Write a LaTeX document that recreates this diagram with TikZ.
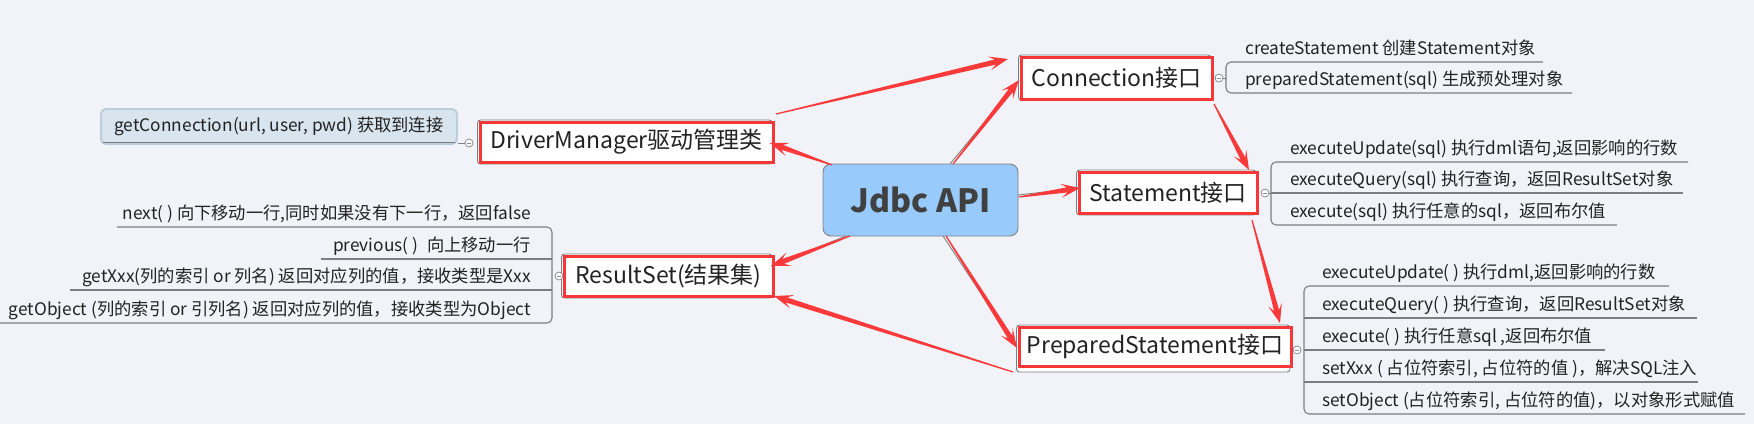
\documentclass[tikz,border=0pt]{standalone}
\usepackage{fontspec}
\setmainfont{Noto Sans CJK SC}
\usetikzlibrary{calc}
\definecolor{bg}{RGB}{242,243,248}
\definecolor{arrowred}{RGB}{250,58,58}
\definecolor{boxred}{RGB}{245,55,55}
\definecolor{txt}{RGB}{34,34,34}
\definecolor{linegray}{RGB}{125,125,130}
\definecolor{knobgray}{RGB}{140,140,145}
\definecolor{jdbcfill}{RGB}{153,202,252}
\definecolor{jdbctxt}{RGB}{64,64,64}
\definecolor{gcfill}{RGB}{216,229,239}
\definecolor{gcborder}{RGB}{188,206,222}
\newcommand{\taper}[2]{%
  \coordinate (tN) at ($(#2)!13pt!(#1)$);
  \coordinate (tB) at ($(#2)!19pt!(#1)$);
  \fill[arrowred] ($(#1)!0.6pt!90:(#2)$) -- ($(tN)!2.6pt!90:(#2)$) -- ($(tB)!7pt!90:(#2)$) -- (#2)
    -- ($(tB)!7pt!-90:(#2)$) -- ($(tN)!2.6pt!-90:(#2)$) -- ($(#1)!0.6pt!-90:(#2)$) -- cycle;
}
\tikzset{
  every node/.style={text=txt, inner sep=0pt},
  mainbox/.style={draw=boxred, line width=3pt, fill=white, font=\fontsize{23}{28}\selectfont},
  grayframe/.style={draw=linegray, line width=0.9pt, rounded corners=3pt, fill=white},
  childtxt/.style={font=\fontsize{17.3}{20}\selectfont, anchor=base west},
  childtxtr/.style={font=\fontsize{17.3}{20}\selectfont, anchor=base east},
  uline/.style={draw=linegray, line width=1.1pt, rounded corners=5pt},
  knob/.style={circle, draw=knobgray, fill=white, line width=0.8pt, minimum size=8pt, inner sep=0pt,
    path picture={\draw[knobgray, line width=0.7pt] ([xshift=-2pt]path picture bounding box.center) -- ([xshift=2pt]path picture bounding box.center);}},
  gline/.style={draw=gray, line width=0.9pt},
}
\begin{document}
\begin{tikzpicture}[x=1pt, y=-1pt]
\fill[bg] (0,0) rectangle (1754,424);
\useasboundingbox (0,0) rectangle (1754,424);

% gray frames behind the main boxes
\draw[grayframe] (477.5,120) rectangle (772,164);
\draw[grayframe] (1018.5,55) rectangle (1211,100);
\draw[grayframe] (1076.5,170) rectangle (1256,215);
\draw[grayframe] (561.5,254) rectangle (772,298);
\draw[grayframe] (1016.5,325) rectangle (1290,372);

% main nodes
\node[mainbox, minimum width=293pt, minimum height=40pt] (dm) at (626.5,142) {DriverManager驱动管理类};
\node[mainbox, minimum width=191pt, minimum height=42pt] (conn) at (1116.5,78) {Connection接口};
\node[mainbox, minimum width=178pt, minimum height=41pt] (stmt) at (1168,192.5) {Statement接口};
\node[mainbox, minimum width=209pt, minimum height=40pt] (rs) at (668.5,276) {ResultSet(结果集)};
\node[mainbox, minimum width=272pt, minimum height=39pt] (ps) at (1155,346.5) {PreparedStatement接口};

% getConnection box
\node[draw=gcborder, line width=2pt, fill=gcfill, rounded corners=5pt, minimum width=356pt, minimum height=35pt,
  font=\fontsize{17.3}{20}\selectfont] (gc) at (279,126.5) {getConnection(url, user, pwd) 获取到连接};
\draw[linegray, line width=1.1pt] ($(gc.south west)+(3,-2.5)$) -- ($(gc.south east)+(-3,-2.5)$);
\node[knob] (kdm) at (469,143) {};
\draw[linegray, line width=1pt] (kdm) -- (gc.east |- kdm);

% Connection children
\node[knob] (kc) at (1219,78) {};
\draw[uline] (1543,62) -- (1226,62) -- (1226,93) -- (1572,93);
\draw[linegray, line width=1pt] (kc) -- (1226,78);
\node[childtxt] (c1) at (1245,54.5) {createStatement 创建Statement对象};
\node[childtxt] (c2) at (1245,85.5) {preparedStatement(sql) 生成预处理对象};

% Statement children
\node[knob] (ks) at (1265,193) {};
\draw[uline] (1688,162) -- (1271,162) -- (1271,225) -- (1617,225);
\draw[uline] (1271,193) -- (1683,193);
\draw[linegray, line width=1pt] (ks) -- (1271,193);
\node[childtxt] (s1) at (1290,154.5) {executeUpdate(sql) 执行dml语句,返回影响的行数};
\node[childtxt] (s2) at (1290,185.5) {executeQuery(sql) 执行查询，返回ResultSet对象};
\node[childtxt] (s3) at (1290,217.5) {execute(sql) 执行任意的sql，返回布尔值};

% PreparedStatement children
\node[knob] (kp) at (1297,350) {};
\draw[uline] (1669,286) -- (1304,286) -- (1304,414) -- (1745,414);
\draw[uline] (1304,318) -- (1697,318);
\draw[uline] (1304,350) -- (1605,350);
\draw[uline] (1304,382) -- (1698,382);
\node[childtxt] (p1) at (1322,278.5) {executeUpdate( ) 执行dml,返回影响的行数};
\node[childtxt] (p2) at (1322,310.5) {executeQuery( ) 执行查询，返回ResultSet对象};
\node[childtxt] (p3) at (1322,342.5) {execute( ) 执行任意sql ,返回布尔值};
\node[childtxt] (p4) at (1322,374.5) {setXxx ( 占位符索引, 占位符的值 )，解决SQL注入};
\node[childtxt] (p5) at (1322,406.5) {setObject (占位符索引, 占位符的值)，以对象形式赋值};

% ResultSet children
\node[knob] (kr) at (559,276) {};
\draw[uline] (117,227) -- (552,227) -- (552,323) -- (0,323);
\draw[uline] (321,259) -- (552,259);
\draw[uline] (70,290) -- (552,290);
\node[childtxtr] (r1) at (531,219.5) {next( ) 向下移动一行,同时如果没有下一行，返回false};
\node[childtxtr] (r2) at (531,251.5) {previous( )\enspace 向上移动一行};
\node[childtxtr] (r3) at (531,282.5) {getXxx(列的索引 or 列名) 返回对应列的值，接收类型是Xxx};
\node[childtxtr] (r4) at (531,315.5) {getObject (列的索引 or 引列名) 返回对应列的值，接收类型为Object};

% arrow end points
\coordinate (a1s) at (776,114);  \coordinate (a1e) at (1008,59);
\coordinate (a2s) at (953,164);  \coordinate (a2e) at (1019,80);
\coordinate (a3s) at (832,165);  \coordinate (a3e) at (770,143);
\coordinate (a4s) at (1019,197); \coordinate (a4e) at (1080,188);
\coordinate (a5s) at (1214,104); \coordinate (a5e) at (1249,170);
\coordinate (a6s) at (1252,220); \coordinate (a6e) at (1280,323);
\coordinate (a7s) at (946,236);  \coordinate (a7e) at (1017,348);
\coordinate (a8s) at (850,236);  \coordinate (a8e) at (771,266);
\coordinate (a9s) at (1013,372); \coordinate (a9e) at (774,296);

% central node and its gray connectors
\coordinate (g1) at (950,164); \coordinate (g3) at (830,164); \coordinate (g4) at (1018,195);
\coordinate (g7) at (943,236); \coordinate (g8) at (846,236);
\draw[gline] (g1) -- (a2e);
\draw[gline] (g3) -- (a3e);
\draw[gline] (g4) -- (a4e);
\draw[gline] (g7) -- (a7e);
\draw[gline] (g8) -- (a8e);
\node[draw=gray, line width=0.9pt, fill=jdbcfill, rounded corners=8pt, minimum width=195pt, minimum height=72pt,
  text=jdbctxt, font=\fontsize{32}{38}\selectfont\bfseries] (jdbc) at (920.5,200) {Jdbc API};

% red arrows
\taper{a1s}{a1e}
\taper{a2s}{a2e}
\taper{a3s}{a3e}
\taper{a4s}{a4e}
\taper{a5s}{a5e}
\taper{a6s}{a6e}
\taper{a7s}{a7e}
\taper{a8s}{a8e}
\taper{a9s}{a9e}
\end{tikzpicture}
\end{document}
